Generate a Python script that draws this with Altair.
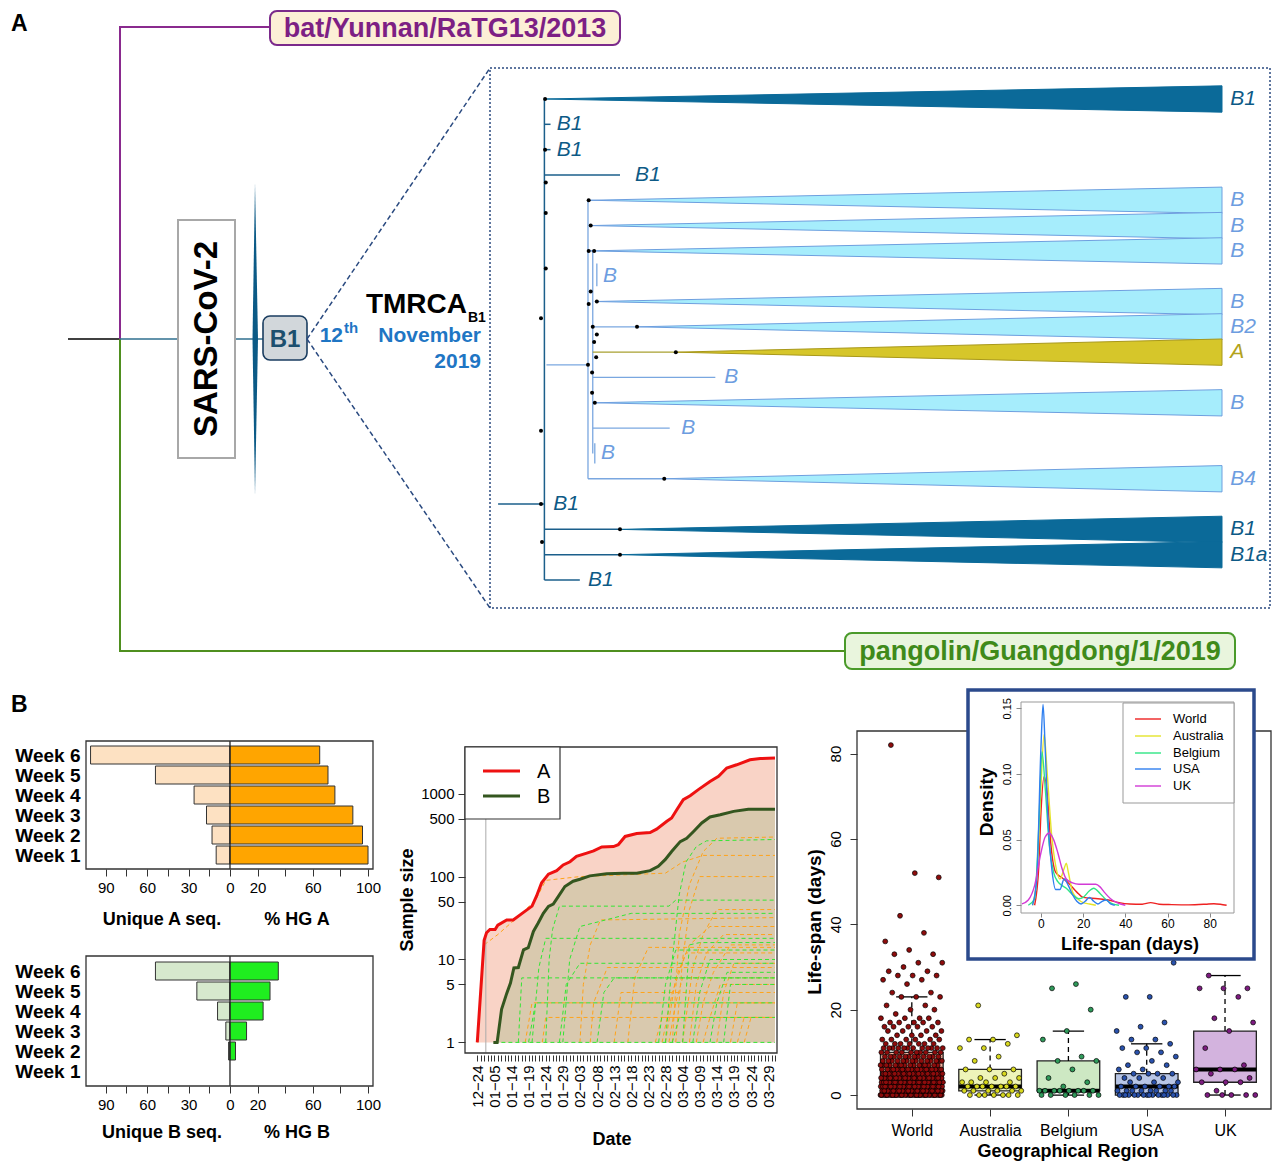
import altair as alt
import pandas as pd

W, H = 1264, 1156
M = 8
FONT = "Liberation Sans"

# ---------------------------------------------------------------- data
# Panel A: zoomed B1 tree (row = tip order, x = divergence units)
tip_rows = [0, 4, 5, 6, 8, 9, 10, 12, 15, 17, 18]
tip_apex = [0.6, 7.2, 7.2, 7.2, 7.9, 14.1, 19.8, 7.9, 18.1, 11.6, 11.6]
tip_group = ["B1", "B", "B", "B", "B", "B", "A", "B", "B", "B1", "B1"]
tip_label = ["B1", "B", "B", "B", "B", "B2", "A", "B", "B4", "B1", "B1a"]

inner_label = ["B1", "B1", "B1", "B", "B", "B", "B", "B1", "B1"]
inner_group = ["B1", "B1", "B1", "B", "B", "B", "B", "B1", "B1"]
inner_x = [2.3, 2.3, 13.8, 9.1, 26.9, 20.6, 8.8, 1.8, 6.9]
inner_row = [1, 2, 3, 7, 11, 13, 14, 16, 19]

dark_edges = [[(0.5, 0), (0.5, 19)], [(-6.3, 16), (0.5, 16)], [(0.5, 1), (1.4, 1)],
              [(0.5, 2), (1.4, 2)], [(0.5, 3), (11.6, 3)], [(0.5, 17), (11.6, 17)],
              [(0.5, 18), (11.6, 18)], [(0.5, 19), (5.7, 19)]]
light_edges = [[(0.8, 10.5), (6.9, 10.5)], [(6.9, 4), (6.9, 15)], [(7.6, 6), (7.6, 14)],
               [(7.6, 9), (14.1, 9)], [(7.6, 11), (25.6, 11)], [(7.6, 13), (18.9, 13)],
               [(6.9, 15), (18.1, 15)], [(8.2, 6.5), (8.2, 7.4)], [(7.9, 13.6), (7.9, 14.4)]]
olive_edges = [[(7.6, 10), (19.8, 10)]]

node_x = [0.6, 0.6, 0.7, 0.7, 0.7, 0.0, 0.0, 0.0, 0.15, 11.6, 11.6, 7.0, 7.3, 7.0, 7.8, 7.3,
          7.0, 8.2, 7.6, 14.1, 7.8, 8.2, 19.8, 6.9, 8.1, 7.5, 7.5, 7.9, 18.1]
node_row = [0, 2.0, 3.3, 4.5, 6.7, 8.66, 13.1, 16, 17.5, 17, 18, 4, 5, 6, 6, 7.6,
            8.1, 8, 9, 9, 9.6, 9.3, 10, 10.5, 10.2, 10.8, 11.6, 12, 15]

# Panel B: pyramids
weeks = [1, 2, 3, 4, 5, 6]
uniq_A = [10, 13, 17, 26, 54, 101]
pct_A = [100, 96, 89, 76, 71, 65]
uniq_B = [0, 1, 3, 9, 24, 54]
pct_B = [0, 4, 12, 24, 29, 35]

# Panel B: cumulative sample size
date_pre = ["12-24", "12-30", "01-01", "01-02", "01-03", "01-05", "01-06", "01-08", "01-10", "01-13"]
date_labels = date_pre + pd.date_range("2020-01-14", "2020-03-31").strftime("%m-%d").tolist()

A_idx = [0, 2, 2.7, 3.7, 5.2, 6, 8.6, 10.5, 13.5, 16, 17.3, 18.8, 20.8, 23.2, 25.1, 27.1, 29, 32, 34,
         36.4, 39.8, 41.2, 43.2, 46.6, 50.5, 52.4, 55.4, 56.8, 58.3, 60.2, 62.2, 64.6, 68, 70.5,
         72.9, 75.8, 79.7, 82.7, 87]
A_val = [1, 17, 21, 23, 23, 26, 30, 30, 37, 44, 58, 84, 107, 118, 138, 151, 175, 192, 204, 228, 230,
         242, 305, 330, 340, 373, 464, 508, 640, 846, 945, 1120, 1400, 1620, 2040, 2230, 2560, 2650,
         2690]
B_idx = [4.7, 5.8, 7.1, 8.6, 9.7, 10.7, 12, 13.5, 14.9, 16.4, 17.8, 19.3, 20.8, 22.2, 23.7, 25.6,
         28, 30, 32.9, 37.8, 42.7, 46.6, 50.5, 52.9, 54.9, 56.8, 59.3, 61.2, 63.2, 65.6, 68, 71,
         74.9, 79.2, 87]
B_val = [1, 1, 2.5, 3.9, 5.2, 7.9, 8, 13.1, 13.9, 21.8, 27.5, 36, 43.7, 46.7, 57.6, 76, 88, 93, 102,
         108, 110, 110, 118, 133, 160, 201, 264, 290, 350, 443, 523, 556, 612, 650, 650]

orange_idx = [[0, 2, 6, 12, 17, 20, 30, 55, 60, 66, 87], [30, 31, 33, 36, 87], [58, 60, 62, 65, 87],
              [60, 63, 66, 70, 87], [55, 58, 62, 68, 87], [62, 64, 67, 72, 87], [54, 57, 61, 87],
              [33, 34, 38, 87], [40, 42, 87], [14, 16, 87], [19, 20, 87], [56, 58, 60, 87],
              [66, 68, 71, 87], [74, 76, 87], [70, 72, 75, 87], [64, 66, 69, 74, 87], [76, 78, 87],
              [44, 46, 50, 87], [57, 59, 62, 66, 70, 87], [52, 54, 87], [78, 80, 87]]
orange_val = [[1, 15, 20, 33, 52, 90, 100, 110, 150, 180, 180], [1, 5, 15, 30, 32], [1, 10, 40, 100, 100],
              [1, 8, 20, 40, 40], [1, 6, 15, 25, 25], [1, 5, 12, 20, 20], [1, 4, 12, 12],
              [1, 3, 8, 8], [1, 4, 4], [1, 3, 3], [1, 2, 2], [1, 3, 6, 6],
              [1, 2, 5, 5], [1, 3, 3], [1, 4, 9, 9], [1, 3, 7, 15, 15], [1, 2, 2],
              [1, 6, 14, 14], [1, 20, 80, 200, 290, 300], [1, 2, 2], [1, 2, 2]]
green_idx = [[20, 21, 22, 24, 56, 58, 87], [16, 18, 20, 87], [25, 27, 30, 45, 87], [12, 13, 87],
             [15, 17, 87], [24, 26, 30, 87], [55, 57, 59, 61, 64, 67, 87], [53, 55, 58, 87],
             [63, 65, 68, 87], [68, 70, 73, 87], [72, 74, 87], [57, 59, 87], [60, 62, 65, 87],
             [5, 87], [35, 37, 40, 87]]
green_val = [[1, 10, 23, 44, 44, 52, 52], [1, 8, 18, 18], [1, 10, 25, 36, 36], [1, 6, 6],
             [1, 3, 3], [1, 5, 9, 9], [1, 10, 60, 150, 230, 270, 280], [1, 5, 13, 13],
             [1, 4, 10, 10], [1, 3, 7, 7], [1, 5, 5], [1, 2, 2], [1, 15, 16, 16],
             [1, 1], [1, 4, 6, 6]]

# Panel B: life-span box plots
regions = ["World", "Australia", "Belgium", "USA", "UK"]
box_q1 = [0, 1, 1, 0, 3]
box_med = [3, 2, 1, 2, 6]
box_q3 = [10, 6, 8, 5, 15]
box_lo = [0, 0, 0, 0, 0]
box_hi = [23, 13, 15, 12, 28]
box_fill = ["#f5b09c", "#eef4b9", "#cde8c3", "#b8c6e6", "#d3b3de"]
pt_color = ["#8e0c0c", "#d9d91f", "#2f9a5a", "#2a52ad", "#7d1b80"]

world_vals = [0, 1, 2, 3, 4, 5, 6, 7, 8, 9, 10, 11, 12, 13, 14, 15, 16, 17, 18, 19, 20, 21, 23, 24,
              26, 27, 28, 29, 30, 31, 33, 34, 36, 38, 42, 51, 52, 82]
world_cnt = [45, 40, 36, 32, 28, 24, 20, 16, 14, 12, 10, 12, 7, 6, 4, 4, 5, 5, 4, 1, 2, 2, 3, 2,
             1, 2, 3, 2, 1, 2, 2, 1, 1, 1, 1, 1, 1, 1]
australia_vals = [21, 14, 13, 13, 12, 11, 11, 9, 8, 6, 6, 6, 5, 4, 4, 4, 3, 3, 3, 3, 2, 2, 2, 2, 2, 2,
                  2, 1, 1, 1, 1, 1, 1, 0, 0, 0, 0, 0, 0, 0]
belgium_vals = [26, 25, 20, 15, 13, 9, 8, 8, 6, 4, 3, 2, 1, 1, 1, 1, 1, 1, 1, 1, 0, 0, 0, 0, 0, 0]
usa_vals = [31, 23, 23, 17, 16, 15, 13, 13, 12, 11, 11, 10, 10, 9, 8, 7, 7, 6, 6, 5, 5, 5, 5, 4, 4,
            4, 3, 3, 3, 2, 2, 2, 2, 2, 2, 1, 1, 1, 1, 1, 1, 1, 1, 0, 0, 0, 0, 0, 0, 0, 0, 0, 0, 0,
            0, 0, 0, 0, 0]
uk_vals = [28, 25, 25, 25, 23, 18, 17, 15, 11, 7, 6, 6, 6, 5, 4, 3, 3, 3, 1, 0, 0, 0, 0, 0]

# inset density curves
dens_x = {
    "World": [-3, -1, 0, 1.5, 3, 4.5, 7, 10, 13, 17, 20, 27, 32, 37, 42, 48, 52, 56, 62, 70, 78, 82, 85, 88],
    "Australia": [-4, -2, 0, 1.5, 3, 5, 7, 9, 11, 12, 13, 15, 18, 20, 23, 26],
    "Belgium": [-6, -3, -1, 0.5, 2, 4, 6, 8, 10, 12, 15, 18, 20, 23, 25, 28, 31, 34, 37],
    "USA": [-4, -2, 0, 1, 2, 3.5, 5, 7, 9, 11, 13, 15, 17, 19, 21, 23, 25, 27, 29, 31, 33, 35],
    "UK": [-9, -6, -3, 0, 2, 4, 6, 8, 10, 12, 15, 18, 21, 24, 26, 28, 30, 33, 36, 40],
}
dens_y = {
    "World": [0, 0.03, 0.07, 0.098, 0.085, 0.05, 0.025, 0.021, 0.017, 0.01, 0.006, 0.005, 0.004,
              0.002, 0.001, 0.0008, 0.002, 0.0008, 0.0005, 0.0003, 0.0008, 0.0012, 0.0008, 0],
    "Australia": [0, 0.02, 0.09, 0.13, 0.1, 0.055, 0.03, 0.02, 0.028, 0.032, 0.025, 0.01, 0.004,
                  0.002, 0.001, 0],
    "Belgium": [0, 0.005, 0.06, 0.117, 0.09, 0.045, 0.025, 0.018, 0.015, 0.013, 0.008, 0.005, 0.006,
                0.011, 0.013, 0.009, 0.004, 0.001, 0],
    "USA": [0, 0.02, 0.12, 0.153, 0.12, 0.06, 0.03, 0.012, 0.012, 0.02, 0.015, 0.008, 0.003, 0.001,
            0.003, 0.006, 0.003, 0.001, 0.003, 0.004, 0.001, 0],
    "UK": [0.001, 0.004, 0.015, 0.04, 0.052, 0.055, 0.05, 0.04, 0.028, 0.02, 0.017, 0.016, 0.016,
           0.016, 0.016, 0.014, 0.01, 0.005, 0.002, 0],
}
dens_color = ["#ee2222", "#e4e42a", "#2fe585", "#2f7fef", "#d23ad6"]


# ---------------------------------------------------------------- helpers
def S(dom, lo, hi):
    return alt.Scale(domain=dom, range=[lo - M, hi - M], nice=False, zero=False)


def xq(f, sc, axis=None):
    return alt.X(f, type="quantitative", scale=sc, axis=axis)


def yq(f, sc, axis=None):
    return alt.Y(f, type="quantitative", scale=sc, axis=axis)


PX = S([0, 1280], 0, 1280)
PY = S([0, 1172], 0, 1172)


def ptext(rows, sx=PX, sy=PY, **mk):
    df = pd.DataFrame(rows, columns=["t", "x", "y"])
    base = dict(font=FONT, baseline="middle", color="black")
    base.update(mk)
    return alt.Chart(df).mark_text(**base).encode(x=xq("x", sx), y=yq("y", sy), text="t:N")


def ppath(paths, sx=PX, sy=PY, **mk):
    rows = [dict(g=i, o=j, x=x, y=y) for i, p in enumerate(paths) for j, (x, y) in enumerate(p)]
    return alt.Chart(pd.DataFrame(rows)).mark_line(**mk).encode(
        x=xq("x", sx), y=yq("y", sy), detail="g:N", order="o:Q")


def prect(rows, sx=PX, sy=PY, **mk):
    df = pd.DataFrame(rows, columns=["x", "x2", "y", "y2"])
    return alt.Chart(df).mark_rect(**mk).encode(x=xq("x", sx), x2="x2", y=yq("y", sy), y2="y2")


def bot_axis(ypage, **kw):
    d = dict(orient="bottom", offset=(ypage - M) - H, grid=False, domain=False, title=None,
             labelFont=FONT, labelColor="black", tickColor="#333", labelFlush=False,
             labelOverlap=False)
    d.update(kw)
    return alt.Axis(**d)


def left_axis(xpage, **kw):
    d = dict(orient="left", offset=-(xpage - M), grid=False, domain=False, title=None,
             labelFont=FONT, labelColor="black", tickColor="#333", labelFlush=False,
             labelOverlap=False)
    d.update(kw)
    return alt.Axis(**d)


layers = []
L = layers.append

# ---------------------------------------------------------------- panel A (outer)
L(ptext([("A", 11, 24)], align="left", fontSize=23, fontWeight="bold"))
L(ppath([[(68, 339), (120, 339)]], color="black", strokeWidth=1.5))
L(ppath([[(120, 339), (120, 27), (270, 27)]], color="#8a2a8e", strokeWidth=2))
L(ppath([[(120, 339), (120, 651), (845, 651)]], color="#4f8f1f", strokeWidth=2))
L(ppath([[(120, 339), (178, 339)], [(235, 339), (263, 339)]], color="#2f6f8f", strokeWidth=1.5))
spindle = pd.DataFrame({"y": [183, 339, 495], "x": [255, 252.5, 255], "x2": [255, 258, 255]})
L(alt.Chart(spindle).mark_area(orient="horizontal", color="#0b5a86").encode(
    y=yq("y", PY), x=xq("x", PX), x2="x2"))
L(prect([(178, 235, 220, 458)], fill="white", stroke="#a8a8a8", strokeWidth=2))
L(ptext([("SARS-CoV-2", 207, 339)], fontSize=33, fontWeight="bold", angle=270))
L(prect([(263, 307, 316, 360)], fill="#d2d7db", stroke="#1a3d60", strokeWidth=1.6, cornerRadius=7))
L(ptext([("B1", 285, 340)], fontSize=24, fontWeight="bold", color="#1c4f6e"))
L(ppath([[(307, 339), (490, 68)], [(307, 339), (490, 608)]], color="#2a4a80", strokeWidth=1.5,
        strokeDash=[5, 3]))
L(ptext([("TMRCA", 467, 305)], align="right", fontSize=28, fontWeight="bold"))
L(ptext([("B1", 468, 318)], align="left", fontSize=14, fontWeight="bold"))
L(ptext([("12", 343, 336), ("November", 481, 336), ("2019", 481, 362)], align="right",
        fontSize=21, fontWeight="bold", color="#1f76c4"))
L(ptext([("th", 344, 328)], align="left", fontSize=15, fontWeight="bold", color="#1f76c4"))
L(prect([(270, 620, 11, 45)], fill="#fcefd6", stroke="#7b2a8b", strokeWidth=2, cornerRadius=7))
L(ptext([("bat/Yunnan/RaTG13/2013", 445, 29)], fontSize=27, fontWeight="bold", color="#7d1f84"))
L(prect([(845, 1235, 633, 669)], fill="#e9f5dd", stroke="#4a9a2a", strokeWidth=2, cornerRadius=7))
L(ptext([("pangolin/Guangdong/1/2019", 1040, 652)], fontSize=27, fontWeight="bold",
        color="#3f8a1a"))
L(prect([(490, 1270, 68, 608)], fill="white", fillOpacity=0, stroke="#2a4a80", strokeWidth=1.5,
        strokeDash=[2, 2]))

# ---------------------------------------------------------------- panel A tree
TX = S([0, 100], 541, 1222)
TY = S([0, 19], 99, 580)
grp_dom = ["B1", "B", "A"]
fill_rng = ["#0b6a99", "#a6edfc", "#d6c62a"]
stroke_rng = ["#0b6a99", "#6e9fdf", "#a8981a"]
label_rng = ["#0d5a86", "#6d9de0", "#b3a31c"]

tri = []
for k, (r, a, g) in enumerate(zip(tip_rows, tip_apex, tip_group)):
    tri.append(dict(k=k, x=a, lo=r, hi=r, g=g))
    tri.append(dict(k=k, x=100, lo=r - 0.52, hi=r + 0.52, g=g))
L(alt.Chart(pd.DataFrame(tri)).mark_area(strokeWidth=1, opacity=1).encode(
    x=xq("x", TX), y=yq("lo", TY), y2="hi", detail="k:N",
    fill=alt.Fill("g:N", scale=alt.Scale(domain=grp_dom, range=fill_rng), legend=None),
    stroke=alt.Stroke("g:N", scale=alt.Scale(domain=grp_dom, range=stroke_rng), legend=None)))
L(ppath(dark_edges, TX, TY, color="#1b5f8b", strokeWidth=1.5))
L(ppath(light_edges, TX, TY, color="#7aa7e0", strokeWidth=1.3))
L(ppath(olive_edges, TX, TY, color="#a8a030", strokeWidth=1.3))
L(alt.Chart(pd.DataFrame({"x": node_x, "y": node_row})).mark_circle(size=16, color="black",
                                                                     opacity=1).encode(
    x=xq("x", TX), y=yq("y", TY)))
tl = pd.DataFrame({"t": tip_label + inner_label,
                   "x": [101.2] * len(tip_label) + inner_x,
                   "y": tip_rows + inner_row,
                   "g": tip_group + inner_group})
L(alt.Chart(tl).mark_text(font=FONT, fontSize=21, fontStyle="italic", align="left",
                          baseline="middle").encode(
    x=xq("x", TX), y=yq("y", TY), text="t:N",
    color=alt.Color("g:N", scale=alt.Scale(domain=grp_dom, range=label_rng), legend=None)))

# ---------------------------------------------------------------- panel B pyramids
L(ptext([("B", 11, 705)], align="left", fontSize=23, fontWeight="bold"))
PYX = S([-104.3, 103.6], 86, 373)
pyr_ticks = [-90, -75, -60, -45, -30, -15, 0, 20, 40, 60, 80, 100]
pyr_lab = "indexof([-90,-60,-30,0,20,60,100], datum.value) >= 0 ? '' + abs(datum.value) : ''"


def pyramid(uniq, pct, light, dark, ytop, ybot, wtop, wbot, t1, t2, ty):
    ys = S([wbot, wtop], ybot, ytop)
    df = pd.DataFrame({"w": weeks, "u": [-v for v in uniq], "p": pct})
    df["lo"] = df["w"] - 0.45
    df["hi"] = df["w"] + 0.45
    df["z"] = 0
    out = []
    out.append(alt.Chart(df[df["u"] < 0]).mark_rect(fill=light, stroke="#333", strokeWidth=1).encode(
        x=xq("u", PYX), x2="z", y=yq("lo", ys), y2="hi"))
    out.append(alt.Chart(df[df["p"] > 0]).mark_rect(fill=dark, stroke="#333", strokeWidth=1).encode(
        x=xq("p", PYX), x2="z", y=yq("lo", ys), y2="hi"))
    out.append(alt.Chart(df).mark_tick(opacity=0).encode(
        x=xq("z", PYX, bot_axis(ybot, values=pyr_ticks, labelExpr=pyr_lab, tickSize=7,
                               labelFontSize=15, labelPadding=4)),
        y=yq("w", ys, left_axis(86, values=weeks, labelExpr="'Week ' + datum.value", ticks=False,
                                labelFontSize=19, labelFontWeight="bold", labelPadding=6))))
    out.append(ppath([[(0, wbot), (0, wtop)]], PYX, ys, color="#222", strokeWidth=1.3))
    out.append(prect([(86, 373, ytop, ybot)], fill="white", fillOpacity=0, stroke="#333",
                     strokeWidth=1.3))
    out.append(ptext([(t1, 162, ty), (t2, 297, ty)], fontSize=18, fontWeight="bold"))
    return out


for c in pyramid(uniq_A, pct_A, "#fde1c2", "#ffa500", 741, 869, 6.7, 0.3,
                 "Unique A seq.", "% HG A", 920):
    L(c)
for c in pyramid(uniq_B, pct_B, "#d6e9cd", "#1fee1f", 956, 1086, 6.75, 0.25,
                 "Unique B seq.", "% HG B", 1133):
    L(c)

# ---------------------------------------------------------------- panel B cumulative lines
LX = S([-3.5, 87.5], 465.3, 776.7)
LY = alt.Scale(type="log", domain=[0.745, 3656], range=[1053 - M, 747 - M], nice=False)
dl = [d.replace("-", "\u2212") for d in date_labels]
date_expr = "datum.value % 5 == 0 ? [" + ",".join("'%s'" % d for d in dl) + "][datum.value] : ''"

dfA = pd.DataFrame({"i": A_idx, "v": A_val, "b": 1})
dfB = pd.DataFrame({"i": B_idx, "v": B_val, "b": 1})
L(alt.Chart(dfA).mark_area(color="#f9d3c6", opacity=1).encode(
    x=xq("i", LX, bot_axis(1055, values=list(range(len(date_labels))), labelExpr=date_expr,
                          labelAngle=270, tickSize=6, labelFontSize=15, labelPadding=4)),
    y=yq("v", LY, left_axis(465, values=[1, 5, 10, 50, 100, 500, 1000], format="d", tickSize=7,
                            labelFontSize=15, labelPadding=4)),
    y2="b"))
L(alt.Chart(dfB).mark_area(color="#d9c9ae", opacity=1).encode(x=xq("i", LX), y=yq("v", LY), y2="b"))


def dashed(idx_lists, val_lists, color):
    rows = []
    for g, (xs, vs) in enumerate(zip(idx_lists, val_lists)):
        for o, (x, v) in enumerate(zip(xs, vs)):
            rows.append(dict(g=g, o=o, i=x, v=v))
    return alt.Chart(pd.DataFrame(rows)).mark_line(color=color, strokeWidth=1,
                                                   strokeDash=[4, 3]).encode(
        x=xq("i", LX), y=yq("v", LY), detail="g:N", order="o:Q")


L(dashed(orange_idx, orange_val, "#ffa31a"))
L(dashed(green_idx, green_val, "#33e633"))
L(ppath([[(2.5, 0.75), (2.5, 3600)]], LX, LY, color="#aaaaaa", strokeWidth=1))
L(alt.Chart(dfA).mark_line(color="#ee1111", strokeWidth=3).encode(x=xq("i", LX), y=yq("v", LY)))
L(alt.Chart(dfB).mark_line(color="#34561f", strokeWidth=3).encode(x=xq("i", LX), y=yq("v", LY)))
L(prect([(465, 777, 747, 1053)], fill="white", fillOpacity=0, stroke="#333", strokeWidth=1.3))
L(prect([(465, 560, 747, 819)], fill="white", stroke="#333", strokeWidth=1.2))
L(ppath([[(483, 771), (520, 771)]], color="#ee1111", strokeWidth=3))
L(ppath([[(483, 796), (520, 796)]], color="#34561f", strokeWidth=3))
L(ptext([("A", 537, 772), ("B", 537, 797)], align="left", fontSize=20))
L(ptext([("Sample size", 408, 900)], fontSize=18, fontWeight="bold", angle=270))
L(ptext([("Date", 612, 1140)], fontSize=18, fontWeight="bold"))

# ---------------------------------------------------------------- panel B box plots
BX = S([-0.7, 4.6], 857, 1272)
BY = S([-3.27, 85.3], 1109, 731)
reg_expr = "[" + ",".join("'%s'" % r for r in regions) + "][datum.value]"
bdf = pd.DataFrame({"k": list(range(5)), "q1": box_q1, "med": box_med, "q3": box_q3,
                    "lo": box_lo, "hi": box_hi, "r": regions})
bdf["l"] = bdf["k"] - 0.4
bdf["rr"] = bdf["k"] + 0.4
bdf["cl"] = bdf["k"] - 0.2
bdf["cr"] = bdf["k"] + 0.2
reg_fill = alt.Scale(domain=regions, range=box_fill)
L(alt.Chart(bdf).mark_rect(stroke="#222", strokeWidth=1.3, opacity=1).encode(
    x=xq("l", BX, bot_axis(1109, values=[0, 1, 2, 3, 4], labelExpr=reg_expr, tickSize=7,
                          labelFontSize=16, labelPadding=6)),
    x2="rr",
    y=yq("q1", BY, left_axis(857, values=[0, 20, 40, 60, 80], labelAngle=270, tickSize=7,
                             labelFontSize=15, labelPadding=7)),
    y2="q3",
    fill=alt.Fill("r:N", scale=reg_fill, legend=None)))
L(alt.Chart(bdf).mark_rule(color="black", strokeWidth=4).encode(
    x=xq("l", BX), x2="rr", y=yq("med", BY)))
L(alt.Chart(bdf).mark_rule(color="black", strokeWidth=1.3, strokeDash=[5, 4]).encode(
    x=xq("k", BX), y=yq("q3", BY), y2="hi"))
L(alt.Chart(bdf).mark_rule(color="black", strokeWidth=1.3, strokeDash=[5, 4]).encode(
    x=xq("k", BX), y=yq("lo", BY), y2="q1"))
L(alt.Chart(bdf).mark_rule(color="black", strokeWidth=1.3).encode(
    x=xq("cl", BX), x2="cr", y=yq("hi", BY)))
L(alt.Chart(bdf).mark_rule(color="black", strokeWidth=1.3).encode(
    x=xq("cl", BX), x2="cr", y=yq("lo", BY)))

world_pts = []
for v, c in zip(world_vals, world_cnt):
    world_pts += [v] * c
pts_lists = [world_pts, australia_vals, belgium_vals, usa_vals, uk_vals]
prow = []
for k, vals in enumerate(pts_lists):
    for i, v in enumerate(vals):
        jit = ((i * 0.6180339887 + 0.31 * k) % 1.0 - 0.5) * 0.8
        prow.append(dict(x=k + jit, v=v, r=regions[k]))
L(alt.Chart(pd.DataFrame(prow)).mark_circle(size=24, stroke="black", strokeWidth=0.7,
                                            opacity=1).encode(
    x=xq("x", BX), y=yq("v", BY),
    color=alt.Color("r:N", scale=alt.Scale(domain=regions, range=pt_color), legend=None)))
L(prect([(857, 1271, 731, 1109)], fill="white", fillOpacity=0, stroke="#333", strokeWidth=1.3))
L(ptext([("Life-span (days)", 815, 922)], fontSize=19, fontWeight="bold", angle=270))
L(ptext([("Geographical Region", 1068, 1152)], fontSize=18, fontWeight="bold"))

# ---------------------------------------------------------------- inset density
L(prect([(968, 1254, 690, 959)], fill="white", stroke="#2b4a8c", strokeWidth=3.5))
IX = S([-9.45, 91.5], 1021, 1234)
IY = S([-0.0059, 0.1548], 913, 702)
drows = []
for r in regions:
    for o, (x, y) in enumerate(zip(dens_x[r], dens_y[r])):
        drows.append(dict(r=r, o=o, x=x, y=y))
L(alt.Chart(pd.DataFrame(drows)).mark_line(strokeWidth=1.4, interpolate="monotone").encode(
    x=xq("x", IX, bot_axis(913, values=[0, 20, 40, 60, 80], tickSize=4, labelFontSize=12,
                          labelPadding=1, tickColor="#888", zindex=1)),
    y=yq("y", IY, left_axis(1021, values=[0, 0.05, 0.1, 0.15], format=".2f", labelAngle=270,
                            tickSize=5, labelFontSize=11, labelPadding=4, tickColor="#888",
                            zindex=1)),
    order="o:Q",
    color=alt.Color("r:N", scale=alt.Scale(domain=regions, range=dens_color), legend=None)))
L(prect([(1021, 1234, 702, 913)], fill="white", fillOpacity=0, stroke="#999", strokeWidth=1))
L(prect([(1123, 1234, 703, 803)], fill="white", stroke="#999", strokeWidth=1))
leg_y = [719, 736, 753, 769, 786]
for r, c, yy in zip(regions, dens_color, leg_y):
    L(ppath([[(1135, yy), (1161, yy)]], color=c, strokeWidth=1.4))
L(ptext([(r, 1173, yy) for r, yy in zip(regions, leg_y)], align="left", fontSize=13))
L(ptext([("Density", 987, 802)], fontSize=19, fontWeight="bold", angle=270))
L(ptext([("Life-span (days)", 1130, 945)], fontSize=18, fontWeight="bold"))

# ---------------------------------------------------------------- assemble
chart = alt.layer(*layers).resolve_scale(
    x="independent", y="independent", color="independent", fill="independent",
    stroke="independent"
).properties(
    width=W, height=H, padding=0, autosize=alt.AutoSizeParams(type="none")
).configure_view(strokeWidth=0)

chart.save("out.html", embed_options={"renderer": "svg", "actions": False})
